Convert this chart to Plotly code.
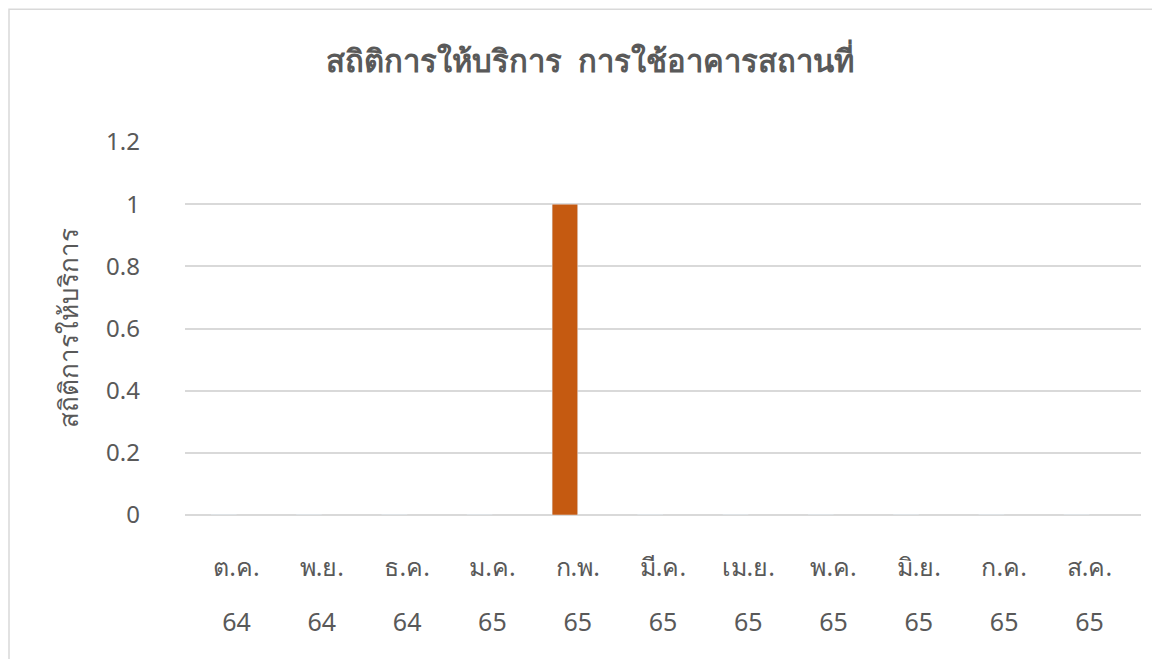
import plotly.graph_objects as go

months = ["ต.ค.", "พ.ย.", "ธ.ค.", "ม.ค.", "ก.พ.", "มี.ค.", "เม.ย.", "พ.ค.", "มิ.ย.", "ก.ค.", "ส.ค."]
years = ["64", "64", "64", "65", "65", "65", "65", "65", "65", "65", "65"]
values = [0, 0, 0, 0, 1, 0, 0, 0, 0, 0, 0]
y_ticks = [0, 0.2, 0.4, 0.6, 0.8, 1, 1.2]

FONT = "Noto Sans, Tahoma, sans-serif"
GREY = "#595959"

fig = go.Figure()
fig.add_trace(go.Bar(x=months, y=values, marker_color="#C55A11", width=0.3, offset=-0.3,
                     hoverinfo="x+y"))
# helper trace so the second (year) axis row is drawn
fig.add_trace(go.Scatter(x=months, y=values, xaxis="x2", mode="markers",
                         marker=dict(opacity=0), hoverinfo="skip"))

fig.update_layout(
    width=1152, height=651,
    paper_bgcolor="white", plot_bgcolor="white",
    margin=dict(l=177, r=19, t=134, b=144),
    title=dict(text="<b>สถิติการให้บริการ\u00a0\u00a0การใช้อาคารสถานที่</b>", x=0.505, xanchor="center",
               y=0.918, yanchor="middle", font=dict(family=FONT, size=31, color=GREY)),
    font=dict(family=FONT, color=GREY),
    showlegend=False,
    xaxis=dict(type="category", categoryorder="array", categoryarray=months,
               tickfont=dict(size=25, color=GREY), showgrid=False, showline=False,
               ticks="", ticklabelstandoff=35),
    xaxis2=dict(type="category", overlaying="x", side="bottom", matches="x",
                tickmode="array", tickvals=months, ticktext=years,
                tickfont=dict(size=25, color=GREY), showgrid=False, showline=False,
                zeroline=False, ticks="", ticklabelstandoff=90),
    yaxis=dict(range=[0, 1.2], tickvals=y_ticks, tickfont=dict(size=24, color=GREY),
               gridcolor="#d9d9d9", gridwidth=1.5, zeroline=True, zerolinecolor="#d9d9d9",
               zerolinewidth=1.5, showline=False, ticks="", ticklabelstandoff=44,
               title=dict(text="สถิติการให้บริการ", font=dict(size=26, color=GREY), standoff=20)),
    shapes=[dict(type="rect", xref="paper", yref="paper", x0=-0.1841, x1=1.03, y0=-0.41, y1=1.356,
                 line=dict(color="#d9d9d9", width=1.5), fillcolor="rgba(0,0,0,0)", layer="below")],
)

fig.write_html("out.html")
